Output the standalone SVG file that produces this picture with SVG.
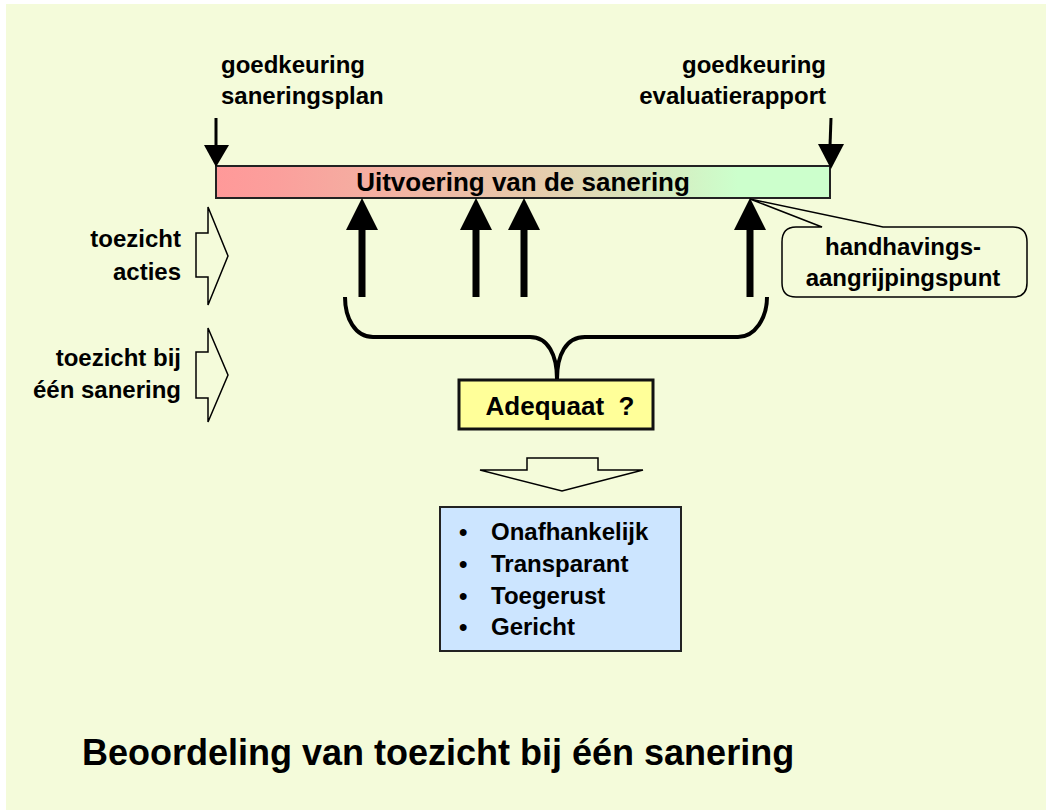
<svg xmlns="http://www.w3.org/2000/svg" width="1046" height="810" viewBox="0 0 1046 810">
<style>
text{font-family:"Liberation Sans",Arial,sans-serif;font-weight:bold;fill:#000}
.lbl{font-size:24px}
.outline{fill:#F4FBDA;stroke:#000;stroke-width:1.5}
.up{fill:#000}
</style>
<defs>
<linearGradient id="barGrad" x1="0" y1="0" x2="1" y2="0">
<stop offset="0" stop-color="#FF9999"/>
<stop offset="0.1" stop-color="#FB9F9C"/>
<stop offset="0.5" stop-color="#E8C8AA"/>
<stop offset="0.85" stop-color="#CCFFCC"/>
<stop offset="1" stop-color="#CCFFCC"/>
</linearGradient>
</defs>
<rect x="0" y="0" width="1046" height="810" fill="#FFFFFF"/>
<rect x="6" y="4" width="1040" height="806" fill="#F4FBDA"/>

<g id="bar">
<rect x="216" y="166" width="614" height="32" fill="url(#barGrad)" stroke="#222" stroke-width="2"/>
<text class="lbl" x="523" y="191" text-anchor="middle" style="font-size:26px">Uitvoering van de sanering</text>
</g>

<g id="label-start">
<text class="lbl" x="221" y="73">goedkeuring</text>
<text class="lbl" x="221" y="104">saneringsplan</text>
</g>
<g id="label-end">
<text class="lbl" x="826" y="73" text-anchor="end">goedkeuring</text>
<text class="lbl" x="826" y="104" text-anchor="end">evaluatierapport</text>
</g>

<g id="side-acties">
<polygon class="outline" points="196,233 208,233 208,207 228,256 208,305 208,277 196,277"/>
<text class="lbl" x="181" y="247" text-anchor="end">toezicht</text>
<text class="lbl" x="181" y="280" text-anchor="end">acties</text>
</g>
<g id="side-sanering">
<polygon class="outline" points="196,352 208,352 208,328 228,375 208,422 208,398 196,398"/>
<text class="lbl" x="181" y="366" text-anchor="end">toezicht bij</text>
<text class="lbl" x="181" y="398" text-anchor="end">één sanering</text>
</g>

<g id="callout">
<path d="M796,227 L822,227 L750,199 L883,227 L1013,227 Q1027,227 1027,242 L1027,283 Q1027,297 1013,297 L796,297 Q782,297 782,283 L782,242 Q782,227 796,227 Z" fill="#F4FBDA" stroke="#000" stroke-width="1.5"/>
<text class="lbl" x="903" y="255" text-anchor="middle">handhavings-</text>
<text class="lbl" x="903" y="286" text-anchor="middle">aangrijpingspunt</text>
</g>

<g id="adequaat">
<rect x="459" y="380" width="194" height="49" fill="#FFFF99" stroke="#111" stroke-width="3"/>
<text class="lbl" x="560" y="415" text-anchor="middle" style="font-size:26px" xml:space="preserve">Adequaat  ?</text>
</g>

<g id="criteria">
<rect x="440" y="507" width="241" height="144" fill="#CCE5FF" stroke="#222" stroke-width="2"/>
<text class="lbl" x="459" y="540">•</text>
<text class="lbl" x="491" y="540">Onafhankelijk</text>
<text class="lbl" x="459" y="572">•</text>
<text class="lbl" x="491" y="572">Transparant</text>
<text class="lbl" x="459" y="604">•</text>
<text class="lbl" x="491" y="604">Toegerust</text>
<text class="lbl" x="459" y="635">•</text>
<text class="lbl" x="491" y="635">Gericht</text>
</g>

<g id="title">
<text x="82" y="765" style="font-size:36px">Beoordeling van toezicht bij één sanering</text>
</g>

<g id="connectors">
<line x1="216" y1="118" x2="216" y2="147" stroke="#000" stroke-width="3"/>
<polygon points="204,145 229,145 216,167" fill="#000"/>
<line x1="831" y1="118" x2="830" y2="146" stroke="#000" stroke-width="3"/>
<polygon points="818,144 844,144 831,169" fill="#000"/>

<polygon class="up" points="346,230 378,230 362,198"/>
<rect class="up" x="358.5" y="228" width="7" height="69"/>
<polygon class="up" points="460,230 492,230 476,198"/>
<rect class="up" x="472.5" y="228" width="7" height="69"/>
<polygon class="up" points="508,230 540,230 524,198"/>
<rect class="up" x="520.5" y="228" width="7" height="69"/>
<polygon class="up" points="734,230 766,230 750,198"/>
<rect class="up" x="746.5" y="228" width="7" height="69"/>

<path d="M345,297 C345,318 355,337 373,337 L530,337 C548,337 557,355 557,379 C557,355 566,337 585,337 L738,337 C755,337 767,318 767,297" fill="none" stroke="#000" stroke-width="4"/>

<polygon class="outline" points="527,458 598,458 598,470 643,470 562,491 480,470 527,470"/>
</g>
</svg>
